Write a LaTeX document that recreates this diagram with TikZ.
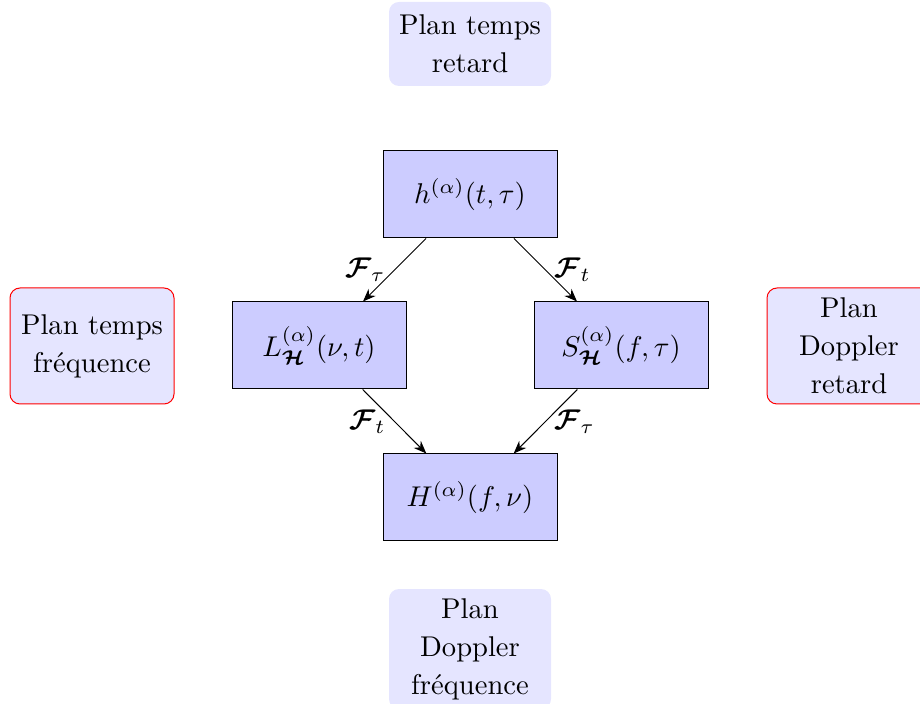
\documentclass[tikz,border=0pt]{standalone}
\usepackage{amsmath,amssymb,bm}
\usetikzlibrary{arrows.meta}
\begin{document}
\begin{tikzpicture}[x=0.35pt,y=-0.35pt,
  txt/.style={font=\fontsize{10}{13.3}\selectfont, align=center},
  mainbox/.style={draw=black, line width=0.35pt, fill=blue!20, minimum width=60.9pt, minimum height=30.45pt, inner sep=2pt},
  planbox/.style={txt, fill=blue!10, rounded corners=3.5pt, inner sep=2pt},
  redbox/.style={planbox, draw=red, line width=0.35pt},
  arr/.style={-{Stealth[length=4.5pt,width=3.5pt]}, line width=0.35pt},
  lbl/.style={inner sep=3pt}
]
\useasboundingbox (0,0) rectangle (920,704);
\node[planbox, minimum width=56.7pt, minimum height=29.4pt] (tr) at (470,44) {Plan temps\\retard};
\node[redbox, minimum width=57.4pt, minimum height=40.6pt] (tf) at (92,346) {Plan temps\\fréquence};
\node[redbox, minimum width=57.4pt, minimum height=40.6pt] (dr) at (849,346) {Plan\\Doppler\\retard};
\node[planbox, minimum width=56.7pt, minimum height=42pt] (df) at (470,649) {Plan\\Doppler\\fréquence};

\node[mainbox] (h) at (470,194.5) {$h^{(\alpha)}(t,\tau)$};
\node[mainbox] (L) at (319,345.5) {$L^{(\alpha)}_{\boldsymbol{\mathcal{H}}}(\nu,t)$};
\node[mainbox] (S) at (621,345.5) {$S^{(\alpha)}_{\boldsymbol{\mathcal{H}}}(f,\tau)$};
\node[mainbox] (H) at (470,497.5) {$H^{(\alpha)}(f,\nu)$};

\draw[arr] (h) -- node[lbl, left] {$\boldsymbol{\mathcal{F}}_\tau$} (L);
\draw[arr] (h) -- node[lbl, right] {$\boldsymbol{\mathcal{F}}_t$} (S);
\draw[arr] (L) -- node[lbl, left] {$\boldsymbol{\mathcal{F}}_t$} (H);
\draw[arr] (S) -- node[lbl, right] {$\boldsymbol{\mathcal{F}}_\tau$} (H);
\end{tikzpicture}
\end{document}
